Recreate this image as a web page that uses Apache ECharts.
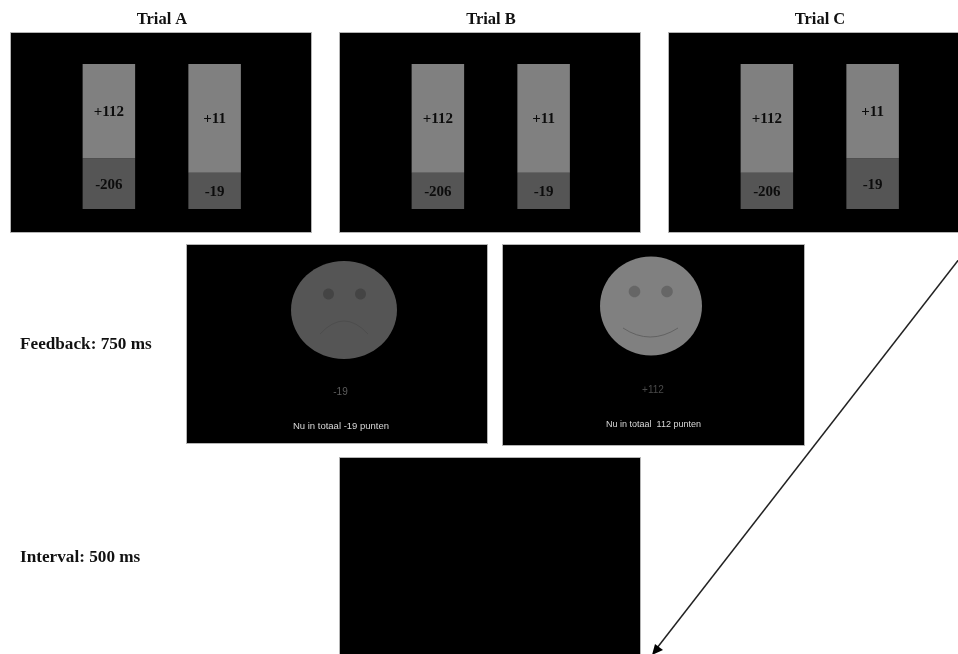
<!DOCTYPE html>
<html>
<head>
<meta charset="utf-8">
<style>html,body{margin:0;padding:0;background:#fff}#c{width:958px;height:654px;filter:blur(0.45px)}</style>
<script src="https://cdn.jsdelivr.net/npm/echarts@6/dist/echarts.min.js"></script>
</head>
<body>
<div id="c"></div>
<script>
const trials = ['Trial A', 'Trial B', 'Trial C'];
const options = ['left', 'right'];
const gainLabels = ['+112', '+11'];
const lossLabels = ['-206', '-19'];
const lossShareA = [35, 25];
const lossShareB = [25, 25];
const lossShareC = [25, 35];
const gainShareA = [65, 75];
const gainShareB = [75, 75];
const gainShareC = [75, 65];
const rowLabels = ['Feedback: 750 ms', 'Interval: 500 ms'];
const feedbackValues = ['-19', '+112'];
const feedbackTotals = ['Nu in totaal -19 punten', 'Nu in totaal  112 punten'];

const lossShares = [lossShareA, lossShareB, lossShareC];
const gainShares = [gainShareA, gainShareB, gainShareC];
const panelLefts = [10, 339, 668];
const SERIF = '"Liberation Serif", serif';
const SANS = '"Liberation Sans", Arial, sans-serif';

const grids = [], xAxes = [], yAxes = [], series = [];
trials.forEach((t, i) => {
  grids.push({ left: panelLefts[i] + 46, top: 64, width: 211.5, height: 145 });
  xAxes.push({ type: 'category', gridIndex: i, data: options, show: false });
  yAxes.push({ type: 'value', gridIndex: i, min: 0, max: 100, show: false });
  const label = (arr) => ({
    show: true, position: 'inside', color: '#0c0c0c', offset: [0, 1],
    fontFamily: SERIF, fontWeight: 'bold', fontSize: 15,
    formatter: (p) => arr[p.dataIndex]
  });
  series.push({
    type: 'bar', stack: 's' + i, xAxisIndex: i, yAxisIndex: i, barWidth: 52.5,
    data: lossShares[i], itemStyle: { color: '#555555' }, label: label(lossLabels)
  });
  series.push({
    type: 'bar', stack: 's' + i, xAxisIndex: i, yAxisIndex: i, barWidth: 52.5,
    data: gainShares[i], itemStyle: { color: '#808080' }, label: label(gainLabels)
  });
});

const panel = (x, y, w, h) => ({
  type: 'rect', z: -5, shape: { x, y, width: w, height: h },
  style: { fill: '#000', stroke: '#b4b4b4', lineWidth: 1 }
});
const text = (x, y, s, font, fill, size, weight, align) => ({
  type: 'text', z: 5, x, y,
  style: { text: s, fontFamily: font, fill, fontSize: size, fontWeight: weight || 'normal',
           align: align || 'center', verticalAlign: 'middle' }
});
const ellipse = (cx, cy, rx, ry, fill) => ({ type: 'ellipse', z: 1, shape: { cx, cy, rx, ry }, style: { fill } });
const mouth = (x1, y1, cpx, cpy, x2, y2, stroke) => ({
  type: 'bezierCurve', z: 2, shape: { x1, y1, x2, y2, cpx1: cpx, cpy1: cpy },
  style: { stroke, fill: 'none', lineWidth: 1 }
});

const graphic = [
  panel(10.5, 32.5, 301, 200), panel(339.5, 32.5, 301, 200), panel(668.5, 32.5, 301, 200),
  panel(186.5, 244.5, 301, 199), panel(502.5, 244.5, 302, 201), panel(339.5, 457.5, 301, 210),
  text(162, 20, trials[0], SERIF, '#111', 16.5, 'bold'),
  text(491, 20, trials[1], SERIF, '#111', 16.5, 'bold'),
  text(820, 20, trials[2], SERIF, '#111', 16.5, 'bold'),
  text(20, 345, rowLabels[0], SERIF, '#111', 17.2, 'bold', 'left'),
  text(20, 558, rowLabels[1], SERIF, '#111', 17.2, 'bold', 'left'),
  ellipse(344, 310, 53, 49, '#555555'),
  ellipse(328.5, 294, 5.5, 5.5, '#444444'), ellipse(360.5, 294, 5.5, 5.5, '#444444'),
  mouth(320, 334, 344, 308, 368, 334, '#4d4d4d'),
  ellipse(651, 306, 51, 49.5, '#808080'),
  ellipse(634.5, 291.5, 5.8, 5.8, '#666666'), ellipse(667, 291.5, 5.8, 5.8, '#666666'),
  mouth(623, 328, 650, 346, 678, 328, '#626262'),
  text(340.5, 392, feedbackValues[0], SANS, '#5c5c5c', 10),
  text(341, 426, feedbackTotals[0], SANS, '#d8d8d8', 9.5),
  text(653, 390, feedbackValues[1], SANS, '#4a4a4a', 10),
  text(653.5, 424.5, feedbackTotals[1], SANS, '#d8d8d8', 9),
  { type: 'line', z: 6, shape: { x1: 970, y1: 245, x2: 657, y2: 648 }, style: { stroke: '#222', lineWidth: 1.5 } },
  { type: 'polygon', z: 6, shape: { points: [[652, 655], [655, 644], [663, 650]] }, style: { fill: '#000' } }
];

const chart = echarts.init(document.getElementById('c'), null, { renderer: 'canvas' });
chart.setOption({
  backgroundColor: '#ffffff',
  animation: false,
  grid: grids, xAxis: xAxes, yAxis: yAxes, series, graphic
});
</script>
</body>
</html>
